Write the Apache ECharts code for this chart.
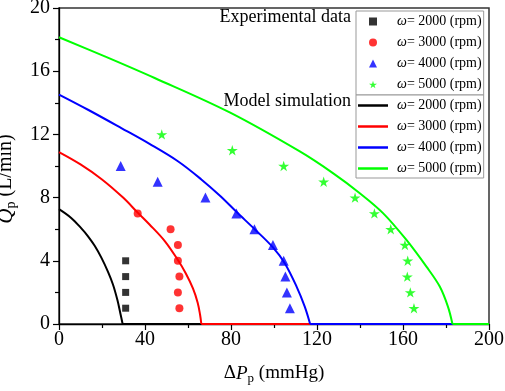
<!DOCTYPE html>
<html>
<head>
<meta charset="utf-8">
<script src="https://cdn.jsdelivr.net/npm/echarts@6/dist/echarts.min.js"></script>
<style>
  html, body { margin: 0; padding: 0; background: #fff; }
  #chart { width: 505px; height: 391px; }
</style>
</head>
<body>
<div id="chart"></div>
<script>
// experimental points [dP (mmHg), Q (L/min)]
var exp2000 = [[31.0, 4], [31.0, 3], [31.0, 2], [31.0, 1]];
var exp3000 = [[36.6, 7], [51.9, 6], [55.3, 5], [55.3, 4], [56.0, 3], [55.3, 2], [56.0, 1]];
var exp4000 = [[28.7, 10], [45.9, 9], [68.1, 8], [82.5, 7], [90.9, 6], [99.5, 5], [104.5, 4], [105.3, 3], [106.0, 2], [107.4, 1]];
var exp5000 = [[47.8, 12], [80.6, 11], [104.5, 10], [123.1, 9], [137.7, 8], [146.7, 7], [154.3, 6], [160.9, 5], [162.2, 4], [162.0, 3], [163.4, 2], [165.1, 1]];

// model curves (last point = flat run along Q = 0)
var sim2000 = [[0, 7.27], [5.8, 6.7], [10.4, 6.05], [13.5, 5.55], [16.6, 4.95], [19.7, 4.2], [22.8, 3.3], [25.1, 2.5], [27.2, 1.5], [28.5, 0.7], [29.6, 0], [200, 0]];
var sim3000 = [[0, 10.88], [10, 10.1], [20, 9.15], [29.8, 8.0], [36.6, 7.05], [42.1, 6.3], [49.2, 5.25], [55.3, 4.05], [59, 3.2], [62.3, 2.25], [64.5, 1.35], [65.6, 0.6], [66.2, 0], [200, 0]];
var sim4000 = [[0, 14.52], [13.5, 13.56], [29, 12.4], [42.1, 11.4], [55.3, 10.3], [66.2, 9.15], [75, 8.1], [82.5, 7.1], [91, 6.0], [99.5, 4.85], [105, 3.85], [110.4, 2.4], [114.3, 1.1], [116.8, 0], [200, 0]];
var sim5000 = [[0, 18.15], [21.3, 16.94], [44.5, 15.57], [79.4, 13.39], [112, 10.92], [127.4, 9.55], [139.9, 8.28], [150.7, 7.02], [161.6, 5.32], [170.9, 3.63], [177.1, 2.37], [180.9, 1.1], [183, 0], [200, 0]];

var speeds = ['2000', '3000', '4000', '5000'];
var colors = ['#000000', '#ff0000', '#0000ff', '#00ff00'];

var serif = 'Liberation Serif';
var star = 'path://M50,0L61,35L98,35L68,57L79,91L50,70L21,91L32,57L2,35L39,35Z';

var chart = echarts.init(document.getElementById('chart'));

var legendText = {
	fontFamily: serif,
	fontSize: 14,
	color: '#000',
	lineHeight: 17,
	rich: {
		i: { fontFamily: serif, fontStyle: 'italic', fontSize: 14 }
	}
};

var legendFmt = function (name) {
	return '{i|ω}= ' + name.slice(1) + ' (rpm)';
};

function scatter(name, data, color, symbol, size) {
	return {
		name: name,
		type: 'scatter',
		data: data,
		symbol: symbol,
		symbolSize: size,
		symbolKeepAspect: true,
		itemStyle: { color: color },
		z: 4
	};
}

function curve(name, data, color) {
	return {
		name: name,
		type: 'line',
		data: data.slice(0, data.length - 1),
		symbol: 'none',
		showSymbol: false,
		smooth: 0.35,
		lineStyle: { color: color, width: 2 },
		itemStyle: { color: color },
		z: 3
	};
}

function tail(name, data, color) {
	return {
		name: name,
		type: 'line',
		data: data.slice(data.length - 2),
		symbol: 'none',
		showSymbol: false,
		lineStyle: { color: color, width: 2 },
		z: 3
	};
}

var option = {
	backgroundColor: '#fff',
	animation: false,
	title: [
		{ text: 'Experimental data', right: 154, top: 8, padding: 0,
		  textStyle: { fontFamily: serif, fontSize: 18, fontWeight: 'normal', color: '#000' } },
		{ text: 'Model simulation', right: 154, top: 92, padding: 0,
		  textStyle: { fontFamily: serif, fontSize: 18, fontWeight: 'normal', color: '#000' } }
	],
	legend: [
		{
			orient: 'vertical',
			left: 356, top: 11,
			itemWidth: 8, itemHeight: 8, itemGap: 4,
			padding: [2, 2, 2, 13],
			backgroundColor: '#fff',
			borderColor: '#999', borderWidth: 1,
			selectedMode: false,
			data: speeds.map(function (s) { return 'e' + s; }),
			formatter: legendFmt,
			textStyle: Object.assign({ padding: [0, 0, 0, 15] }, legendText)
		},
		{
			orient: 'vertical',
			left: 356, top: 95,
			itemWidth: 30, itemHeight: 2.5, itemGap: 4,
			padding: [2, 2, 1, 2],
			backgroundColor: '#fff',
			borderColor: '#999', borderWidth: 1,
			selectedMode: false,
			data: speeds.map(function (s, k) {
				return { name: 's' + s, icon: 'rect', itemStyle: { color: colors[k] } };
			}),
			formatter: legendFmt,
			textStyle: Object.assign({ padding: [0, 0, 0, 4] }, legendText)
		}
	],
	grid: {
		left: 59, right: 16, top: 8, bottom: 67,
		outerBoundsMode: 'none',
		containLabel: false,
		show: true, borderColor: '#333', borderWidth: 1.5, backgroundColor: 'transparent'
	},
	xAxis: {
		type: 'value',
		min: 0, max: 200, interval: 40,
		name: 'Δ{i|P}{s|p} (mmHg)',
		nameLocation: 'middle',
		nameGap: 38,
		nameTextStyle: {
			fontFamily: serif, fontSize: 19, color: '#000',
			rich: {
				i: { fontFamily: serif, fontSize: 19, fontStyle: 'italic' },
				s: { fontFamily: serif, fontSize: 13, padding: [10, 0, 0, 0] }
			}
		},
		axisLine: { lineStyle: { color: '#000', width: 1.3 } },
		axisTick: { length: 6, lineStyle: { color: '#000', width: 1.2 } },
		minorTick: { show: true, splitNumber: 2, length: 4, lineStyle: { color: '#000', width: 1.2 } },
		axisLabel: { fontFamily: serif, fontSize: 20, color: '#000', margin: 6 },
		splitLine: { show: false }
	},
	yAxis: {
		type: 'value',
		min: 0, max: 20, interval: 4,
		name: '{i|Q}{s|p} (L/min)',
		nameLocation: 'middle',
		nameGap: 41,
		nameTextStyle: {
			fontFamily: serif, fontSize: 20, color: '#000',
			padding: [0, 26, 0, 0],
			rich: {
				i: { fontFamily: serif, fontSize: 21, fontStyle: 'italic' },
				s: { fontFamily: serif, fontSize: 14, padding: [10, 0, 0, 0] }
			}
		},
		axisLine: { lineStyle: { color: '#000', width: 1.3 } },
		axisTick: { length: 6, lineStyle: { color: '#000', width: 1.2 } },
		minorTick: { show: true, splitNumber: 2, length: 4, lineStyle: { color: '#000', width: 1.2 } },
		axisLabel: { fontFamily: serif, fontSize: 20, color: '#000', margin: 9 },
		splitLine: { show: false }
	},
	series: [
		tail('t2000', sim2000, colors[0]),
		curve('s2000', sim2000, colors[0]),
		tail('t3000', sim3000, colors[1]),
		curve('s3000', sim3000, colors[1]),
		tail('t4000', sim4000, colors[2]),
		curve('s4000', sim4000, colors[2]),
		tail('t5000', sim5000, colors[3]),
		curve('s5000', sim5000, colors[3]),
		scatter('e2000', exp2000, colors[0], 'rect', 7),
		scatter('e3000', exp3000, colors[1], 'circle', 8),
		scatter('e4000', exp4000, colors[2], 'triangle', 10),
		scatter('e5000', exp5000, colors[3], star, 11)
	]
};

chart.setOption(option);
</script>
</body>
</html>
